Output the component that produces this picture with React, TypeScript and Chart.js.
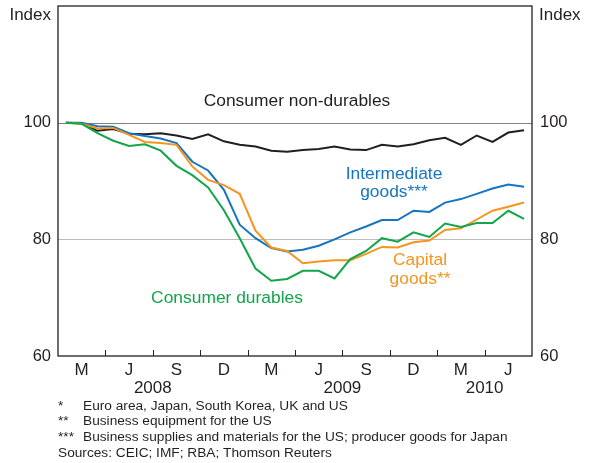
import React, { useEffect, useRef } from "react";
import { Chart, registerables } from "chart.js";

Chart.register(...registerables);

const months = [
  "Jan 2008", "Feb 2008", "Mar 2008", "Apr 2008", "May 2008", "Jun 2008",
  "Jul 2008", "Aug 2008", "Sep 2008", "Oct 2008", "Nov 2008", "Dec 2008",
  "Jan 2009", "Feb 2009", "Mar 2009", "Apr 2009", "May 2009", "Jun 2009",
  "Jul 2009", "Aug 2009", "Sep 2009", "Oct 2009", "Nov 2009", "Dec 2009",
  "Jan 2010", "Feb 2010", "Mar 2010", "Apr 2010", "May 2010", "Jun 2010",
];

const consumerNonDurables = [
  100, 99.9, 98.6, 98.9, 98.1, 98.0, 98.2, 97.8, 97.2, 98.0,
  96.8, 96.2, 95.9, 95.2, 95.0, 95.3, 95.5, 95.9, 95.4, 95.3,
  96.2, 95.9, 96.3, 97.0, 97.4, 96.2, 97.8, 96.7, 98.3, 98.7,
];

const intermediateGoods = [
  100, 100, 99.4, 99.3, 98.2, 97.7, 97.3, 96.5, 93.3, 91.8,
  88.5, 82.5, 80.2, 78.5, 77.9, 78.2, 78.9, 80.0, 81.2, 82.2,
  83.3, 83.3, 84.9, 84.7, 86.3, 86.9, 87.8, 88.7, 89.4, 89.0,
];

const capitalGoods = [
  100, 99.8, 99.0, 99.1, 97.9, 96.7, 96.5, 96.2, 92.5, 90.2,
  89.3, 87.8, 81.5, 78.6, 78.0, 75.9, 76.2, 76.4, 76.4, 77.5,
  78.7, 78.6, 79.5, 79.8, 81.6, 81.9, 83.4, 84.9, 85.6, 86.3,
];

const consumerDurables = [
  100, 99.8, 98.2, 96.9, 96.0, 96.3, 95.2, 92.6, 91.0, 88.9,
  85.0, 80.2, 75.0, 72.9, 73.2, 74.6, 74.6, 73.3, 76.6, 78.0,
  80.2, 79.6, 81.2, 80.4, 82.7, 82.1, 82.8, 82.8, 84.9, 83.5,
];

const yTicks = [60, 80, 100];

const footnotes = [
  ["*", "Euro area, Japan, South Korea, UK and US"],
  ["**", "Business equipment for the US"],
  ["***", "Business supplies and materials for the US; producer goods for Japan"],
];
const sourcesText = "Sources: CEIC; IMF; RBA; Thomson Reuters";

const BLACK = "#231f20";
const BLUE = "#1674c1";
const ORANGE = "#f7941d";
const GREEN = "#12a54a";
const FONT = "'Liberation Sans', Arial, Helvetica, sans-serif";

const toPoints = (arr: number[]) => arr.map((v, i) => ({ x: i + 0.5, y: v }));

const customPlugin = {
  id: "rbaDecor",
  beforeDatasetsDraw(chart: any) {
    const { ctx, chartArea } = chart;
    const y = chart.scales.y;
    ctx.save();
    const grids: [number, string][] = [
      [80, "#bdbdbd"],
      [100, "#808080"],
    ];
    for (const [v, c] of grids) {
      const py = Math.round(y.getPixelForValue(v)) + 0.5;
      ctx.strokeStyle = c;
      ctx.lineWidth = 1.2;
      ctx.beginPath();
      ctx.moveTo(chartArea.left, py);
      ctx.lineTo(chartArea.right, py);
      ctx.stroke();
    }
    ctx.restore();
  },
  afterDatasetsDraw(chart: any) {
    const { ctx, chartArea } = chart;
    const { left, right, top, bottom } = chartArea;
    const x = chart.scales.x;
    const y = chart.scales.y;
    ctx.save();
    // box
    ctx.strokeStyle = BLACK;
    ctx.lineWidth = 1.3;
    ctx.strokeRect(left, top, right - left, bottom - top);
    // x tick marks every quarter (inside)
    ctx.lineWidth = 1;
    for (let m = 3; m < months.length; m += 3) {
      const px = Math.round(x.getPixelForValue(m)) + 0.5;
      ctx.beginPath();
      ctx.moveTo(px, bottom);
      ctx.lineTo(px, bottom - 6);
      ctx.stroke();
    }
    // y tick labels
    ctx.fillStyle = BLACK;
    ctx.font = `16.5px ${FONT}`;
    ctx.textBaseline = "middle";
    for (const v of yTicks) {
      const py = y.getPixelForValue(v);
      ctx.textAlign = "right";
      ctx.fillText(String(v), left - 7, py);
      ctx.textAlign = "left";
      ctx.fillText(String(v), right + 8, py);
    }
    // Index labels
    ctx.font = `17px ${FONT}`;
    ctx.textAlign = "right";
    ctx.fillText("Index", left - 7, 15);
    ctx.textAlign = "left";
    ctx.fillText("Index", right + 7, 15);
    // quarter labels
    ctx.textAlign = "center";
    for (let q = 0; q < months.length / 3; q++) {
      const lastMonth = months[q * 3 + 2];
      const lbl = lastMonth.charAt(0);
      const px = x.getPixelForValue(q * 3 + 1.5);
      ctx.fillText(lbl, px, 370);
    }
    // year labels
    const years: { year: string; start: number; end: number }[] = [];
    months.forEach((m, i) => {
      const yr = m.split(" ")[1];
      const last = years[years.length - 1];
      if (last && last.year === yr) last.end = i + 1;
      else years.push({ year: yr, start: i, end: i + 1 });
    });
    for (const g of years) {
      const px = x.getPixelForValue((g.start + g.end) / 2);
      ctx.fillText(g.year, px, 388);
    }
    // annotations
    ctx.font = `17.4px ${FONT}`;
    ctx.fillStyle = BLACK;
    ctx.fillText("Consumer non-durables", 297, 101);
    ctx.fillStyle = BLUE;
    ctx.fillText("Intermediate", 394, 174);
    ctx.fillText("goods***", 394, 192);
    ctx.fillStyle = ORANGE;
    ctx.fillText("Capital", 420, 260);
    ctx.fillText("goods**", 420, 279);
    ctx.fillStyle = GREEN;
    ctx.fillText("Consumer durables", 227, 298);
    // footnotes
    ctx.fillStyle = BLACK;
    ctx.font = `13.7px ${FONT}`;
    ctx.textAlign = "left";
    footnotes.forEach(([mark, text], i) => {
      const py = 406 + i * 15.7;
      ctx.fillText(mark, 58, py);
      ctx.fillText(text, 83, py);
    });
    ctx.fillText(sourcesText, 58, 406 + 3 * 15.7);
    ctx.restore();
  },
};

export default function App() {
  const ref = useRef<HTMLCanvasElement | null>(null);
  useEffect(() => {
    if (!ref.current) return;
    const chart = new Chart(ref.current, {
      type: "line",
      data: {
        datasets: [
          { label: "Consumer durables", data: toPoints(consumerDurables), borderColor: GREEN },
          { label: "Capital goods", data: toPoints(capitalGoods), borderColor: ORANGE },
          { label: "Intermediate goods", data: toPoints(intermediateGoods), borderColor: BLUE },
          { label: "Consumer non-durables", data: toPoints(consumerNonDurables), borderColor: BLACK },
        ],
      },
      options: {
        responsive: false,
        animation: false,
        parsing: true,
        layout: { padding: { left: 58, right: 63, top: 6, bottom: 107 } },
        elements: {
          line: { borderWidth: 2, tension: 0, fill: false },
          point: { radius: 0, hoverRadius: 0 },
        },
        plugins: { legend: { display: false }, tooltip: { enabled: false } },
        scales: {
          x: { type: "linear", min: 0, max: months.length, display: false },
          y: { type: "linear", min: 60, max: 120, display: false },
        },
      },
      plugins: [customPlugin],
    });
    return () => chart.destroy();
  }, []);
  return (
    <div style={{ position: "absolute", left: 0, top: 0, width: 595, height: 463, background: "#fff" }}>
      <canvas ref={ref} width={595} height={463} style={{ width: 595, height: 463, display: "block" }} />
    </div>
  );
}
